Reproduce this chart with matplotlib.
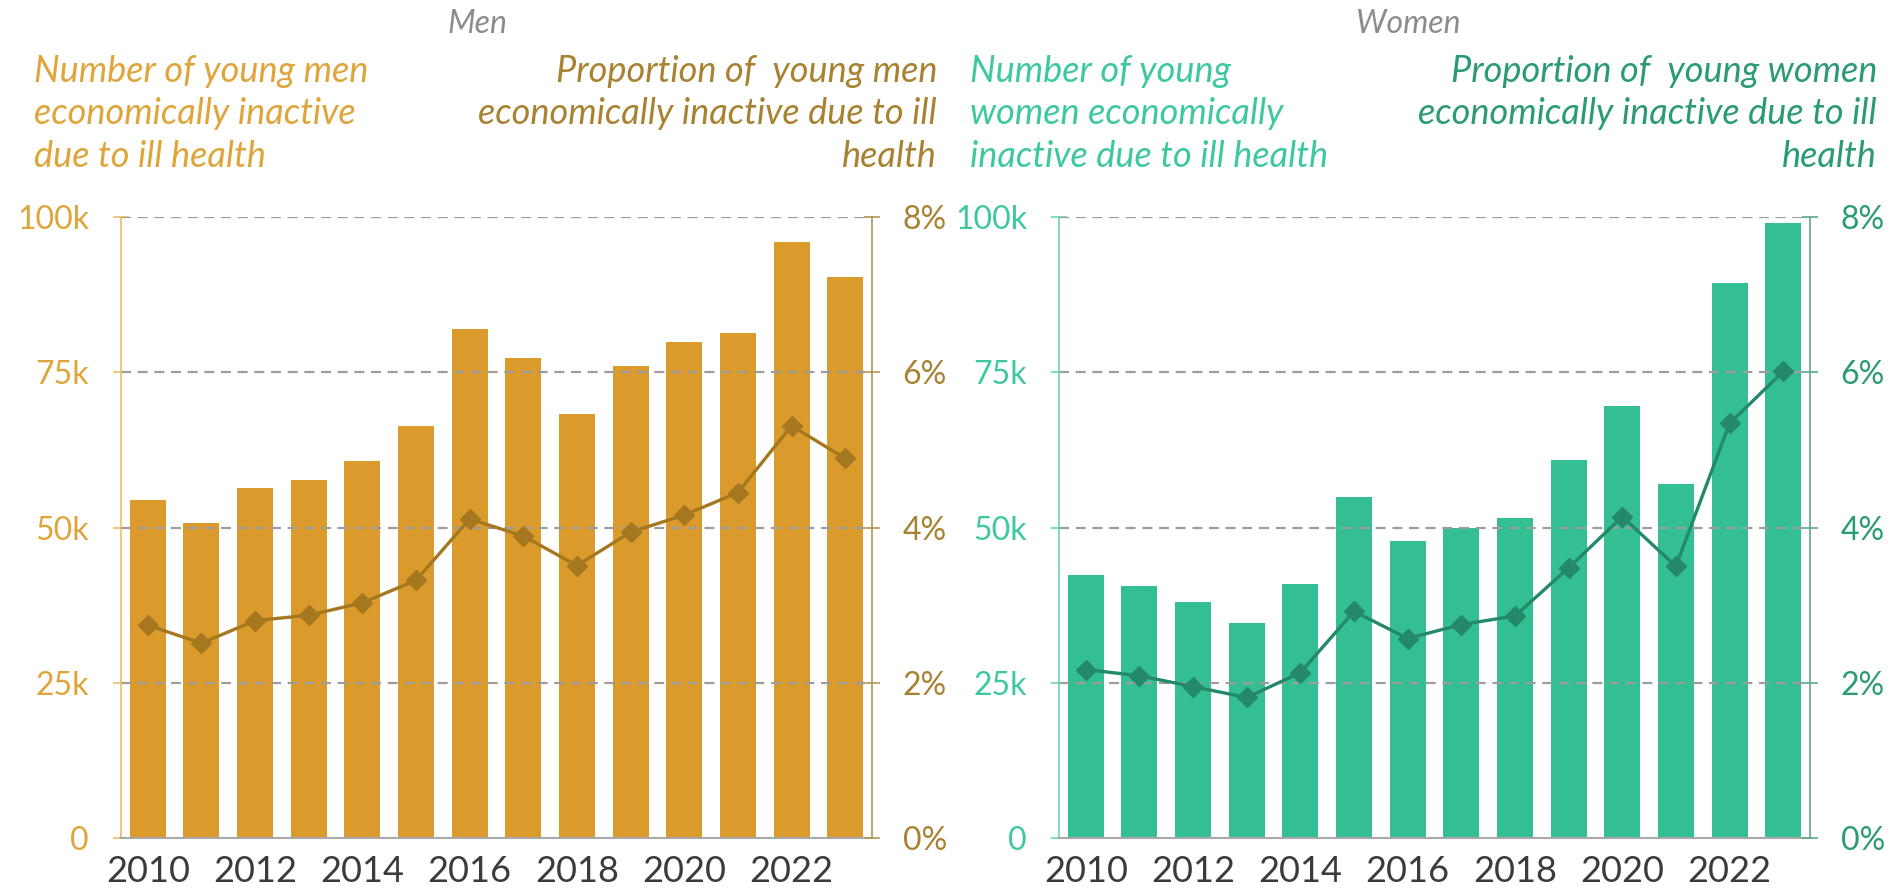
import numpy as np
import matplotlib
matplotlib.use("Agg")
import matplotlib.pyplot as plt
from matplotlib.ticker import FuncFormatter

years = list(range(2010, 2024))
men_count = [54.5, 50.8, 56.3, 57.7, 60.7, 66.4, 81.9, 77.3, 68.3, 76.0, 79.9, 81.4, 96.0, 90.3]
men_pct = [2.74, 2.51, 2.80, 2.87, 3.03, 3.32, 4.11, 3.89, 3.51, 3.94, 4.16, 4.45, 5.31, 4.89]
women_count = [42.4, 40.5, 38.0, 34.7, 40.9, 54.9, 47.9, 50.0, 51.6, 60.9, 69.5, 57.0, 89.4, 99.1]
women_pct = [2.17, 2.09, 1.95, 1.81, 2.13, 2.92, 2.57, 2.75, 2.86, 3.48, 4.14, 3.50, 5.34, 6.01]

count_ticks = [0, 25, 50, 75, 100]
count_labels = ["0", "25k", "50k", "75k", "100k"]
pct_ticks = [0, 2, 4, 6, 8]
year_ticks = [2010, 2012, 2014, 2016, 2018, 2020, 2022]

plt.rcParams['font.family'] = ['Lato', 'DejaVu Sans']

W, H = 1895, 894
fig = plt.figure(figsize=(W / 100, H / 100), dpi=100)

panels = [
    dict(left=121, title="Men", bars=men_count, line=men_pct,
         bar_c="#DB9A2C", line_c="#A5781F", lc="#DFA53A", rc="#A88230",
         lspine="#E9BE6B", rspine="#B39658",
         ltxt="Number of young men\neconomically inactive\ndue to ill health",
         rtxt="Proportion of  young men\neconomically inactive due to ill\nhealth",
         ltx=34, rtx=937, tcx=477),
    dict(left=1059, title="Women", bars=women_count, line=women_pct,
         bar_c="#33BF93", line_c="#24896A", lc="#3EC89E", rc="#2B9A77",
         lspine="#6BD3B2", rspine="#5FA88E",
         ltxt="Number of young\nwomen economically\ninactive due to ill health",
         rtxt="Proportion of  young women\neconomically inactive due to ill\nhealth",
         ltx=970, rtx=1877, tcx=1408),
]

ax_w, ax_top, ax_bot = 751, 217, 838

for p in panels:
    ax = fig.add_axes([p["left"] / W, 1 - ax_bot / H, ax_w / W, (ax_bot - ax_top) / H])
    ax.bar(years, p["bars"], width=0.67, color=p["bar_c"], zorder=1)
    ax.set_xlim(2009.5, 2023.5)
    ax.set_ylim(0, 100)
    ax.set_yticks(count_ticks)
    ax.set_yticklabels(count_labels)
    ax.set_xticks(year_ticks)
    for yv in count_ticks[1:]:
        ax.axhline(yv, color="#9d9d9d", lw=1.6, ls=(0, (4.5, 3)), zorder=2)
    for s in ["top", "right"]:
        ax.spines[s].set_visible(False)
    ax.spines["bottom"].set_color("#a9a9a9")
    ax.spines["bottom"].set_linewidth(1.5)
    ax.spines["left"].set_color(p["lspine"])
    ax.spines["left"].set_linewidth(1.2)
    ax.tick_params(axis="y", colors=p["lspine"], labelcolor=p["lc"], labelsize=23,
                   length=12, direction="inout", width=1.2, pad=17)
    ax.tick_params(axis="x", length=0, labelsize=26, labelcolor="#3b3b3b", pad=12)

    ax2 = ax.twinx()
    ax2.plot(years, p["line"], color=p["line_c"], lw=2.4, marker="D", ms=10, zorder=3)
    ax2.set_ylim(0, 8)
    ax2.set_yticks(pct_ticks)
    ax2.yaxis.set_major_formatter(FuncFormatter(lambda v, pos: "%d%%" % v))
    for s in ["top", "left", "bottom"]:
        ax2.spines[s].set_visible(False)
    ax2.spines["right"].set_color(p["rspine"])
    ax2.spines["right"].set_linewidth(1.2)
    ax2.tick_params(axis="y", colors=p["rspine"], labelcolor=p["rc"], labelsize=23,
                    length=12, direction="inout", width=1.2, pad=16)

    fig.text(p["tcx"] / W, 1 - 24 / H, p["title"], ha="center", va="center",
             fontsize=23, style="italic", color="#8c8c8c")
    fig.text(p["ltx"] / W, 1 - 55 / H, p["ltxt"], ha="left", va="top",
             fontsize=26, style="italic", color=p["lc"], linespacing=1.35)
    fig.text(p["rtx"] / W, 1 - 55 / H, p["rtxt"], ha="right", va="top", multialignment="right",
             fontsize=26, style="italic", color=p["rc"], linespacing=1.35)

fig.savefig("out.png", dpi=100)
